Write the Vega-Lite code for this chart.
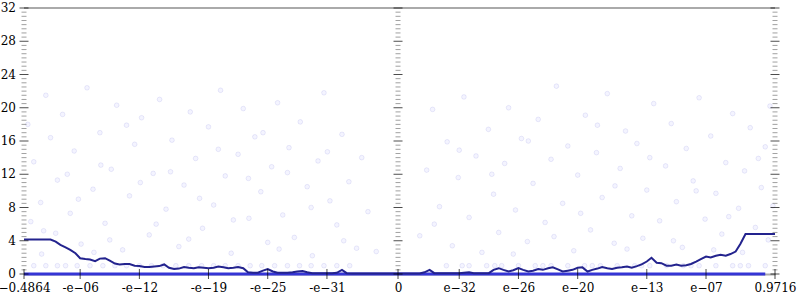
{
  "$schema": "https://vega.github.io/schema/vega-lite/v6.json",
  "width": 751,
  "height": 266,
  "autosize": {"type": "none"},
  "padding": {"left": 24, "top": 8, "right": 25, "bottom": 26},
  "config": {
    "font": "DejaVu Serif",
    "view": {"stroke": null},
    "axis": {"labelFont": "DejaVu Serif", "labelFontSize": 12, "labelColor": "#000", "grid": false, "title": null},
    "axisY": {"labels": false, "ticks": false, "domain": false}
  },
  "datasets": {
    "pts": [
      {"x": -0.2, "y": 18.0}, {"x": -0.05, "y": 13.5}, {"x": -0.01, "y": 8.6}, {"x": -0.003, "y": 21.5}, {"x": -0.005, "y": 5.2},
      {"x": -0.001, "y": 16.4}, {"x": -2e-4, "y": 11.3}, {"x": -6e-5, "y": 19.2}, {"x": -1e-5, "y": 7.3}, {"x": -4e-6, "y": 14.8},
      {"x": -8e-7, "y": 3.6}, {"x": -2e-7, "y": 22.4}, {"x": -5e-8, "y": 10.2}, {"x": -1e-8, "y": 17.0}, {"x": -3e-9, "y": 6.1},
      {"x": -7e-10, "y": 12.6}, {"x": -2e-10, "y": 20.3}, {"x": -5e-11, "y": 2.9}, {"x": -1e-11, "y": 9.4}, {"x": -3e-12, "y": 15.6},
      {"x": -6e-13, "y": 18.8}, {"x": -1e-13, "y": 4.7}, {"x": -4e-14, "y": 12.1}, {"x": -9e-15, "y": 21.0}, {"x": -2e-15, "y": 7.8},
      {"x": -5e-16, "y": 16.1}, {"x": -1e-16, "y": 3.3}, {"x": -3e-17, "y": 10.7}, {"x": -7e-18, "y": 19.5}, {"x": -2e-18, "y": 13.9},
      {"x": -4e-19, "y": 5.5}, {"x": -1e-19, "y": 17.7}, {"x": -3e-20, "y": 8.3}, {"x": -6e-21, "y": 22.1}, {"x": -2e-21, "y": 11.8},
      {"x": -5e-22, "y": 2.5}, {"x": -1e-22, "y": 14.4}, {"x": -3e-23, "y": 19.9}, {"x": -8e-24, "y": 6.7}, {"x": -2e-24, "y": 16.5},
      {"x": -5e-25, "y": 9.9}, {"x": -1e-25, "y": 3.8}, {"x": -4e-26, "y": 12.9}, {"x": -1e-26, "y": 20.6}, {"x": -3e-27, "y": 7.1},
      {"x": -7e-28, "y": 15.2}, {"x": -2e-28, "y": 4.4}, {"x": -5e-29, "y": 18.3}, {"x": -1e-29, "y": 10.5}, {"x": -3e-30, "y": 2.2},
      {"x": -8e-31, "y": 13.6}, {"x": -2e-31, "y": 21.8}, {"x": -5e-32, "y": 8.8}, {"x": -1e-32, "y": 5.9}, {"x": -3e-33, "y": 16.8},
      {"x": -6e-34, "y": 11.1}, {"x": -1e-34, "y": 3.1}, {"x": -3e-35, "y": 14.0}, {"x": -7e-36, "y": 7.5}, {"x": -1e-36, "y": 2.7},
      {"x": -0.1, "y": 6.3}, {"x": -0.008, "y": 2.4}, {"x": -3e-4, "y": 4.9}, {"x": -2e-5, "y": 12.0}, {"x": -1.5e-6, "y": 9.0},
      {"x": -4e-8, "y": 2.6}, {"x": -8e-9, "y": 13.1}, {"x": -1e-9, "y": 4.1}, {"x": -2e-11, "y": 17.9}, {"x": -8e-13, "y": 11.0},
      {"x": -2e-14, "y": 6.0}, {"x": -7e-16, "y": 12.3}, {"x": -1e-17, "y": 4.2}, {"x": -8e-19, "y": 9.1}, {"x": -1e-20, "y": 15.0},
      {"x": -3e-22, "y": 6.5}, {"x": -9e-24, "y": 11.5}, {"x": -3e-25, "y": 17.0}, {"x": -7e-27, "y": 3.0}, {"x": -1e-27, "y": 12.2},
      {"x": -4e-30, "y": 8.0}, {"x": -9e-32, "y": 14.7}, {"x": -2e-33, "y": 4.0},
      {"x": 1e-36, "y": 4.6}, {"x": 5e-36, "y": 12.5}, {"x": 2e-35, "y": 19.8}, {"x": 1e-34, "y": 8.1}, {"x": 6e-34, "y": 15.9},
      {"x": 2e-33, "y": 3.4}, {"x": 8e-33, "y": 11.6}, {"x": 3e-32, "y": 21.3}, {"x": 1e-31, "y": 6.8}, {"x": 5e-31, "y": 14.2},
      {"x": 2e-30, "y": 2.6}, {"x": 9e-30, "y": 17.4}, {"x": 3e-29, "y": 9.6}, {"x": 1e-28, "y": 5.0}, {"x": 4e-28, "y": 13.3},
      {"x": 1e-27, "y": 20.0}, {"x": 5e-27, "y": 7.7}, {"x": 2e-26, "y": 16.3}, {"x": 8e-26, "y": 3.9}, {"x": 3e-25, "y": 10.9},
      {"x": 1e-24, "y": 18.6}, {"x": 5e-24, "y": 6.2}, {"x": 2e-23, "y": 13.8}, {"x": 7e-23, "y": 22.6}, {"x": 3e-22, "y": 8.5},
      {"x": 1e-21, "y": 15.4}, {"x": 4e-21, "y": 2.8}, {"x": 1e-20, "y": 11.9}, {"x": 6e-20, "y": 19.1}, {"x": 2e-19, "y": 5.3},
      {"x": 8e-19, "y": 14.6}, {"x": 3e-18, "y": 9.2}, {"x": 1e-17, "y": 21.7}, {"x": 5e-17, "y": 3.7}, {"x": 2e-16, "y": 12.7},
      {"x": 7e-16, "y": 17.2}, {"x": 3e-15, "y": 7.0}, {"x": 1e-14, "y": 15.7}, {"x": 4e-14, "y": 4.3}, {"x": 1e-13, "y": 10.1},
      {"x": 5e-13, "y": 20.5}, {"x": 2e-12, "y": 6.4}, {"x": 8e-12, "y": 13.0}, {"x": 3e-11, "y": 18.1}, {"x": 1e-10, "y": 8.7},
      {"x": 4e-10, "y": 3.2}, {"x": 1e-9, "y": 15.1}, {"x": 5e-9, "y": 11.2}, {"x": 2e-8, "y": 21.2}, {"x": 8e-8, "y": 6.6},
      {"x": 3e-7, "y": 16.6}, {"x": 1e-6, "y": 9.7}, {"x": 4e-6, "y": 4.8}, {"x": 1e-5, "y": 13.4}, {"x": 5e-5, "y": 19.3},
      {"x": 2e-4, "y": 7.9}, {"x": 8e-4, "y": 12.4}, {"x": 0.003, "y": 17.6}, {"x": 0.01, "y": 5.6}, {"x": 0.04, "y": 10.4},
      {"x": 0.1, "y": 15.3}, {"x": 0.3, "y": 20.2}, {"x": 0.6, "y": 8.2},
      {"x": 3e-35, "y": 6.0}, {"x": 1e-32, "y": 14.9}, {"x": 2e-29, "y": 12.0}, {"x": 3e-27, "y": 2.4}, {"x": 1e-25, "y": 16.0},
      {"x": 4e-23, "y": 4.5}, {"x": 2e-20, "y": 7.3}, {"x": 1e-18, "y": 17.9}, {"x": 6e-17, "y": 10.6}, {"x": 1e-15, "y": 3.0},
      {"x": 2e-13, "y": 14.0}, {"x": 5e-11, "y": 4.0}, {"x": 1e-8, "y": 10.0}, {"x": 6e-7, "y": 2.9}, {"x": 2e-5, "y": 6.9},
      {"x": 5e-4, "y": 2.6}, {"x": 0.02, "y": 13.9}, {"x": 0.2, "y": 4.1},
      {"x": -0.05, "y": 1}, {"x": -0.003, "y": 1}, {"x": -2e-4, "y": 1}, {"x": -3e-5, "y": 1}, {"x": -2e-6, "y": 1},
      {"x": -1e-7, "y": 1}, {"x": -5e-9, "y": 1}, {"x": -3e-10, "y": 1}, {"x": -2e-11, "y": 1}, {"x": -1e-12, "y": 1},
      {"x": -6e-14, "y": 1}, {"x": -4e-15, "y": 1}, {"x": -2e-16, "y": 1}, {"x": -1e-17, "y": 1}, {"x": -5e-19, "y": 1},
      {"x": -3e-20, "y": 1}, {"x": -2e-21, "y": 1}, {"x": -1e-22, "y": 1}, {"x": -6e-24, "y": 1}, {"x": -4e-25, "y": 1},
      {"x": -2e-26, "y": 1}, {"x": -1e-27, "y": 1}, {"x": -6e-29, "y": 1}, {"x": -4e-30, "y": 1}, {"x": -2e-31, "y": 1},
      {"x": -1e-32, "y": 1}, {"x": -5e-34, "y": 1},
      {"x": 5e-34, "y": 1}, {"x": 2e-32, "y": 1}, {"x": 1e-31, "y": 1}, {"x": 6e-30, "y": 1}, {"x": 4e-29, "y": 1},
      {"x": 2e-28, "y": 1}, {"x": 1e-26, "y": 1}, {"x": 5e-25, "y": 1}, {"x": 3e-24, "y": 1}, {"x": 2e-23, "y": 1},
      {"x": 1e-21, "y": 1}, {"x": 5e-20, "y": 1}, {"x": 3e-19, "y": 1}, {"x": 2e-18, "y": 1}, {"x": 1e-16, "y": 1},
      {"x": 6e-15, "y": 1}, {"x": 3e-14, "y": 1}, {"x": 2e-13, "y": 1}, {"x": 1e-11, "y": 1}, {"x": 5e-10, "y": 1},
      {"x": 3e-9, "y": 1}, {"x": 2e-8, "y": 1}, {"x": 1e-6, "y": 1}, {"x": 5e-5, "y": 1}, {"x": 3e-4, "y": 1},
      {"x": 0.002, "y": 1}, {"x": 0.1, "y": 1}
    ],
    "mean": [
      {"x": -0.4864, "y": 4.15}, {"x": -0.3, "y": 4.15}, {"x": -0.1, "y": 4.15}, {"x": -0.03, "y": 4.15}, {"x": -0.01, "y": 4.15},
      {"x": -0.003, "y": 4.15}, {"x": -0.001, "y": 4.15}, {"x": -3e-4, "y": 3.9}, {"x": -1e-4, "y": 3.5}, {"x": -3e-5, "y": 3.2},
      {"x": -1e-5, "y": 2.9}, {"x": -3e-6, "y": 2.5}, {"x": -1e-6, "y": 1.9}, {"x": -3e-7, "y": 1.8}, {"x": -1e-7, "y": 1.75},
      {"x": -3e-8, "y": 1.55}, {"x": -1e-8, "y": 1.85}, {"x": -3e-9, "y": 1.9}, {"x": -1e-9, "y": 1.6}, {"x": -3e-10, "y": 1.25},
      {"x": -1e-10, "y": 1.15}, {"x": -3e-11, "y": 1.2}, {"x": -1e-11, "y": 1.2}, {"x": -3e-12, "y": 1.0}, {"x": -1e-12, "y": 0.95},
      {"x": -3e-13, "y": 0.85}, {"x": -1e-13, "y": 0.85}, {"x": -3e-14, "y": 0.9}, {"x": -1e-14, "y": 0.95}, {"x": -3e-15, "y": 1.15},
      {"x": -1e-15, "y": 0.75}, {"x": -3e-16, "y": 0.6}, {"x": -1e-16, "y": 0.65}, {"x": -3e-17, "y": 0.85}, {"x": -1e-17, "y": 0.75},
      {"x": -3e-18, "y": 0.7}, {"x": -1e-18, "y": 0.8}, {"x": -3e-19, "y": 0.75}, {"x": -1e-19, "y": 0.7}, {"x": -3e-20, "y": 0.75},
      {"x": -1e-20, "y": 0.9}, {"x": -3e-21, "y": 0.8}, {"x": -1e-21, "y": 0.7}, {"x": -3e-22, "y": 0.75}, {"x": -1e-22, "y": 0.85},
      {"x": -3e-23, "y": 0.7}, {"x": -1e-23, "y": 0.2}, {"x": -3e-24, "y": 0.15}, {"x": -1e-24, "y": 0.15}, {"x": -3e-25, "y": 0.4},
      {"x": -1e-25, "y": 0.6}, {"x": -3e-26, "y": 0.3}, {"x": -1e-26, "y": 0.15}, {"x": -3e-27, "y": 0.15}, {"x": -1e-27, "y": 0.15},
      {"x": -3e-28, "y": 0.2}, {"x": -1e-28, "y": 0.3}, {"x": -3e-29, "y": 0.35}, {"x": -1e-29, "y": 0.2}, {"x": -3e-30, "y": 0.1},
      {"x": -1e-30, "y": 0.1}, {"x": -3e-31, "y": 0.1}, {"x": -1e-31, "y": 0.1}, {"x": -3e-32, "y": 0.1}, {"x": -1e-32, "y": 0.15},
      {"x": -3e-33, "y": 0.5}, {"x": -1e-33, "y": 0.1}, {"x": -3e-34, "y": 0.05}, {"x": -1e-34, "y": 0.05}, {"x": -1e-36, "y": 0.05},
      {"x": -1e-38, "y": 0.05}, {"x": 0, "y": 0.05},
      {"x": 1e-38, "y": 0.05}, {"x": 1e-37, "y": 0.05}, {"x": 1e-36, "y": 0.05}, {"x": 3e-36, "y": 0.2}, {"x": 1e-35, "y": 0.5},
      {"x": 3e-35, "y": 0.1}, {"x": 1e-34, "y": 0.1}, {"x": 1e-33, "y": 0.1}, {"x": 1e-32, "y": 0.1}, {"x": 3e-32, "y": 0.15},
      {"x": 1e-31, "y": 0.2}, {"x": 3e-31, "y": 0.1}, {"x": 1e-30, "y": 0.1}, {"x": 1e-29, "y": 0.1}, {"x": 3e-29, "y": 0.5},
      {"x": 1e-28, "y": 0.7}, {"x": 3e-28, "y": 0.5}, {"x": 1e-27, "y": 0.3}, {"x": 3e-27, "y": 0.45}, {"x": 1e-26, "y": 0.7},
      {"x": 3e-26, "y": 0.5}, {"x": 1e-25, "y": 0.3}, {"x": 3e-25, "y": 0.4}, {"x": 1e-24, "y": 0.6}, {"x": 3e-24, "y": 0.5},
      {"x": 1e-23, "y": 0.7}, {"x": 3e-23, "y": 0.8}, {"x": 1e-22, "y": 0.55}, {"x": 3e-22, "y": 0.3}, {"x": 1e-21, "y": 0.4},
      {"x": 3e-21, "y": 0.5}, {"x": 1e-20, "y": 0.75}, {"x": 3e-20, "y": 0.8}, {"x": 1e-19, "y": 0.3}, {"x": 3e-19, "y": 0.5},
      {"x": 1e-18, "y": 0.65}, {"x": 3e-18, "y": 0.85}, {"x": 1e-17, "y": 0.7}, {"x": 3e-17, "y": 0.6}, {"x": 1e-16, "y": 0.75},
      {"x": 3e-16, "y": 0.8}, {"x": 1e-15, "y": 0.9}, {"x": 3e-15, "y": 0.75}, {"x": 1e-14, "y": 0.95}, {"x": 3e-14, "y": 1.15},
      {"x": 1e-13, "y": 1.5}, {"x": 3e-13, "y": 1.95}, {"x": 1e-12, "y": 1.35}, {"x": 3e-12, "y": 1.3}, {"x": 1e-11, "y": 1.0},
      {"x": 3e-11, "y": 1.0}, {"x": 1e-10, "y": 1.15}, {"x": 3e-10, "y": 1.0}, {"x": 1e-9, "y": 1.05}, {"x": 3e-9, "y": 1.2},
      {"x": 1e-8, "y": 1.5}, {"x": 3e-8, "y": 1.8}, {"x": 1e-7, "y": 2.1}, {"x": 3e-7, "y": 2.0}, {"x": 1e-6, "y": 2.2},
      {"x": 3e-6, "y": 2.3}, {"x": 1e-5, "y": 2.2}, {"x": 3e-5, "y": 2.4}, {"x": 1e-4, "y": 2.7}, {"x": 3e-4, "y": 3.6},
      {"x": 0.001, "y": 4.8}, {"x": 0.01, "y": 4.8}, {"x": 0.1, "y": 4.8}, {"x": 0.9716, "y": 4.8}
    ],
    "median": [
      {"x": -0.4864, "y": 0}, {"x": 0, "y": 0}, {"x": 0.1, "y": 0}
    ],
    "ymajor": [
      {"v": 0}, {"v": 4}, {"v": 8}, {"v": 12}, {"v": 16}, {"v": 20}, {"v": 24}, {"v": 28}, {"v": 32}
    ],
    "yminor": [
      {"v": 0.5}, {"v": 1}, {"v": 1.5}, {"v": 2}, {"v": 2.5}, {"v": 3}, {"v": 3.5},
      {"v": 4.5}, {"v": 5}, {"v": 5.5}, {"v": 6}, {"v": 6.5}, {"v": 7}, {"v": 7.5},
      {"v": 8.5}, {"v": 9}, {"v": 9.5}, {"v": 10}, {"v": 10.5}, {"v": 11}, {"v": 11.5},
      {"v": 12.5}, {"v": 13}, {"v": 13.5}, {"v": 14}, {"v": 14.5}, {"v": 15}, {"v": 15.5},
      {"v": 16.5}, {"v": 17}, {"v": 17.5}, {"v": 18}, {"v": 18.5}, {"v": 19}, {"v": 19.5},
      {"v": 20.5}, {"v": 21}, {"v": 21.5}, {"v": 22}, {"v": 22.5}, {"v": 23}, {"v": 23.5},
      {"v": 24.5}, {"v": 25}, {"v": 25.5}, {"v": 26}, {"v": 26.5}, {"v": 27}, {"v": 27.5},
      {"v": 28.5}, {"v": 29}, {"v": 29.5}, {"v": 30}, {"v": 30.5}, {"v": 31}, {"v": 31.5}
    ],
    "top": [{"v": 32}],
    "xticks": [
      {"v": -0.4864, "b": 0}, {"v": -1e-6, "b": 0}, {"v": -1e-12, "b": 0}, {"v": -1e-19, "b": 0}, {"v": -1e-25, "b": 0},
      {"v": -1e-31, "b": 0}, {"v": 0, "b": 0}, {"v": 1e-32, "b": 0}, {"v": 1e-26, "b": 0}, {"v": 1e-20, "b": 0},
      {"v": 1e-13, "b": 0}, {"v": 1e-7, "b": 0}, {"v": 0.9716, "b": 0}
    ]
  },
  "layer": [
    {
      "data": {"name": "pts"},
      "mark": {"type": "circle", "size": 22, "fill": "#3030ff", "fillOpacity": 0.05, "stroke": "#2020c0", "strokeOpacity": 0.09, "strokeWidth": 1},
      "encoding": {
        "x": {
          "field": "x", "type": "quantitative",
          "scale": {"type": "symlog", "constant": 6.31e-39, "domain": [-0.4864, 0.9716], "nice": false, "zero": false},
          "axis": {
            "values": [-0.4864, -1e-6, -1e-12, -1e-19, -1e-25, -1e-31, 0, 1e-32, 1e-26, 1e-20, 1e-13, 1e-7, 0.9716],
            "labelExpr": "datum.value == 0 ? '0' : abs(datum.value) > 0.01 ? format(datum.value, '.4f') : (datum.value < 0 ? '-' : '') + 'e' + format(round(log(abs(datum.value)) / LN10), '03d')",
            "ticks": false, "tickSize": 0, "domain": true, "domainColor": "#aaaaaa", "domainWidth": 2,
            "labelPadding": 8, "labelOverlap": false, "labelFlush": false, "labelBound": false
          }
        },
        "y": {
          "field": "y", "type": "quantitative",
          "scale": {"domain": [0, 32], "nice": false}
        }
      }
    },
    {
      "data": {"name": "median"},
      "mark": {"type": "line", "color": "#3535d5", "strokeWidth": 3},
      "encoding": {
        "x": {"field": "x", "type": "quantitative"},
        "y": {"field": "y", "type": "quantitative"}
      }
    },
    {
      "data": {"name": "mean"},
      "mark": {"type": "line", "color": "#23238e", "strokeWidth": 2},
      "encoding": {
        "x": {"field": "x", "type": "quantitative"},
        "y": {"field": "y", "type": "quantitative"}
      }
    },
    {
      "data": {"name": "top"},
      "mark": {"type": "rule", "color": "#aaaaaa", "strokeWidth": 2},
      "encoding": {"y": {"field": "v", "type": "quantitative"}}
    },
    {
      "data": {"name": "ymajor"},
      "mark": {"type": "text", "align": "right", "baseline": "middle", "dx": -8, "font": "DejaVu Serif", "fontSize": 12, "color": "#000000"},
      "encoding": {"x": {"datum": -0.4864}, "y": {"field": "v", "type": "quantitative"}, "text": {"field": "v", "type": "quantitative"}}
    },
    {
      "data": {"name": "ymajor"},
      "mark": {"type": "tick", "orient": "horizontal", "size": 9, "thickness": 1, "color": "#000000"},
      "encoding": {"x": {"datum": -0.4864}, "y": {"field": "v", "type": "quantitative"}}
    },
    {
      "data": {"name": "ymajor"},
      "mark": {"type": "tick", "orient": "horizontal", "size": 9, "thickness": 1, "color": "#000000"},
      "encoding": {"x": {"datum": 0}, "y": {"field": "v", "type": "quantitative"}}
    },
    {
      "data": {"name": "ymajor"},
      "mark": {"type": "tick", "orient": "horizontal", "size": 9, "thickness": 1, "color": "#000000"},
      "encoding": {"x": {"datum": 0.9716}, "y": {"field": "v", "type": "quantitative"}}
    },
    {
      "data": {"name": "yminor"},
      "mark": {"type": "tick", "orient": "horizontal", "size": 5, "thickness": 1, "color": "#777777"},
      "encoding": {"x": {"datum": -0.4864}, "y": {"field": "v", "type": "quantitative"}}
    },
    {
      "data": {"name": "yminor"},
      "mark": {"type": "tick", "orient": "horizontal", "size": 5, "thickness": 1, "color": "#777777"},
      "encoding": {"x": {"datum": 0}, "y": {"field": "v", "type": "quantitative"}}
    },
    {
      "data": {"name": "yminor"},
      "mark": {"type": "tick", "orient": "horizontal", "size": 5, "thickness": 1, "color": "#777777"},
      "encoding": {"x": {"datum": 0.9716}, "y": {"field": "v", "type": "quantitative"}}
    },
    {
      "mark": {"type": "rule", "color": "#555555", "strokeWidth": 1},
      "encoding": {"x": {"datum": -0.4864}}
    },
    {
      "mark": {"type": "rule", "color": "#555555", "strokeWidth": 1},
      "encoding": {"x": {"datum": 0}}
    },
    {
      "mark": {"type": "rule", "color": "#555555", "strokeWidth": 1},
      "encoding": {"x": {"datum": 0.9716}}
    },
    {
      "data": {"name": "xticks"},
      "mark": {"type": "tick", "orient": "vertical", "size": 10, "thickness": 1, "color": "#000000"},
      "encoding": {"x": {"field": "v", "type": "quantitative"}, "y": {"field": "b", "type": "quantitative"}}
    }
  ]
}
